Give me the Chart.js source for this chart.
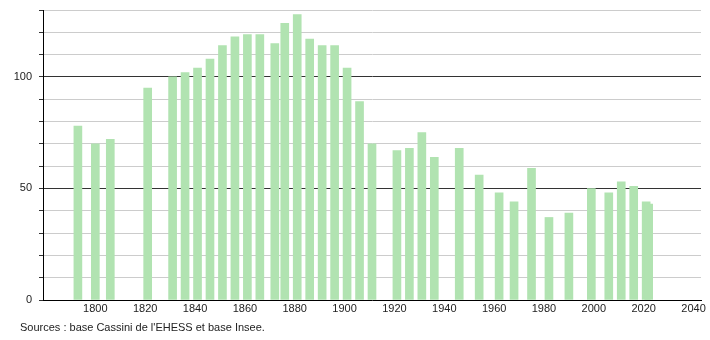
<!DOCTYPE html>
<html>
<head>
<meta charset="utf-8">
<script src="https://cdn.jsdelivr.net/npm/chart.js@4"></script>
<style>
  html, body { margin: 0; padding: 0; background: #fff; }
  #wrap { width: 710px; height: 340px; }
</style>
</head>
<body>
<div id="wrap"><canvas id="chart" width="710" height="340"></canvas></div>
<script>
const years = [1793, 1800, 1806, 1821, 1831, 1836, 1841, 1846, 1851, 1856, 1861, 1866, 1872, 1876, 1881, 1886, 1891, 1896, 1901, 1906, 1911, 1921, 1926, 1931, 1936, 1946, 1954, 1962, 1968, 1975, 1982, 1990, 1999, 2006, 2011, 2016, 2021, 2022];
const population = [78, 70, 72, 95, 100, 102, 104, 108, 114, 118, 119, 119, 115, 124, 128, 117, 114, 114, 104, 89, 70, 67, 68, 75, 64, 68, 56, 48, 44, 59, 37, 39, 50, 48, 53, 51, 44, 43];
const xTicks = [1800, 1820, 1840, 1860, 1880, 1900, 1920, 1940, 1960, 1980, 2000, 2020, 2040];
const yLabels = [0, 50, 100];
const source = "Sources : base Cassini de l'EHESS et base Insee.";

const font = { family: "'Liberation Sans', Arial, sans-serif", size: 11 };

// footer line under the axis
const footer = {
  id: 'footer',
  afterDraw(chart) {
    const ctx = chart.ctx;
    ctx.save();
    ctx.font = "11px 'Liberation Sans', Arial, sans-serif";
    ctx.fillStyle = '#222';
    ctx.textBaseline = 'alphabetic';
    ctx.fillText(source, 20, 331);
    ctx.restore();
  }
};

new Chart(document.getElementById('chart'), {
  type: 'bar',
  data: {
    datasets: [{
      data: years.map((y, i) => ({ x: y, y: population[i] })),
      backgroundColor: '#b1e3b1',
      barThickness: 8,
      borderWidth: 0
    }]
  },
  options: {
    responsive: false,
    animation: false,
    layout: { padding: { top: 10, right: 9, left: 0, bottom: 0 } },
    plugins: { legend: { display: false }, tooltip: { enabled: false } },
    scales: {
      x: {
        type: 'linear',
        offset: false,
        min: 1779,
        max: 2043,
        afterBuildTicks: (axis) => { axis.ticks = xTicks.map(v => ({ value: v })); },
        afterFit: (axis) => { axis.height = 40; axis.paddingLeft = 0; axis.paddingRight = 0; },
        ticks: { font: font, color: '#222', padding: 2, maxRotation: 0, callback: v => String(v) },
        grid: { display: false, drawTicks: false, offset: false },
        border: { display: true, color: '#000', width: 1 }
      },
      y: {
        min: 0,
        max: 130,
        afterBuildTicks: (axis) => {
          const t = [];
          for (let v = 0; v <= 130; v += 10) t.push({ value: v });
          axis.ticks = t;
        },
        afterFit: (axis) => { axis.width = 43; axis.paddingTop = 0; axis.paddingBottom = 0; },
        ticks: {
          font: font, color: '#222', padding: 7,
          callback: v => yLabels.includes(v) ? String(v) : ''
        },
        grid: {
          color: ctx => (ctx.tick && (ctx.tick.value === 50 || ctx.tick.value === 100)) ? '#333' : '#cccccc',
          lineWidth: 1,
          tickLength: 4,
          tickColor: '#333'
        },
        border: { display: true, color: '#000', width: 1 }
      }
    }
  },
  plugins: [footer]
});
</script>
</body>
</html>
